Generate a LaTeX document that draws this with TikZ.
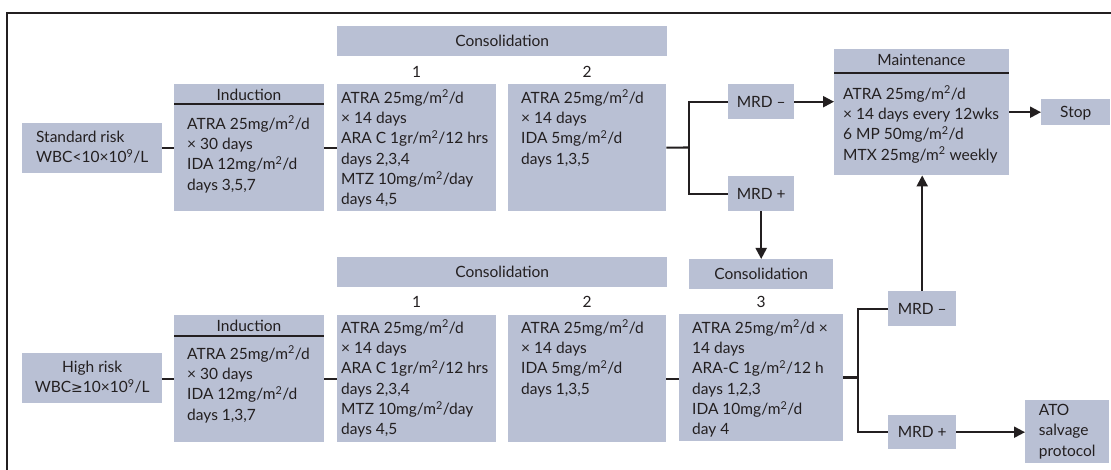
\documentclass[tikz,border=0pt]{standalone}
\usepackage{fontspec}
\setmainfont{Lato}
\newfontfamily\symfnt{DejaVu Sans}
\usetikzlibrary{arrows.meta}
\definecolor{boxc}{RGB}{185,192,212}
\definecolor{ink}{RGB}{35,31,32}
\newcommand\mainsz{\fontsize{15.5}{20.3}\selectfont}
\newcommand\sq{\textsuperscript{2}}
\tikzset{
  bx/.style={fill=boxc, draw=none, inner sep=0pt, anchor=north west, text=ink, font=\mainsz},
  lblbox/.style={bx, text height=10.8pt, text depth=0pt},
  lbl/.style={inner sep=0pt, text=ink, font=\mainsz, text height=10.8pt, text depth=0pt},
  txt/.style={inner sep=0pt, text=ink, font=\mainsz, align=left, anchor=north west},
  conn/.style={draw=ink, line width=2.1pt},
  arr/.style={conn, -{Triangle[length=11pt,width=11pt]}},
  hline/.style={draw=ink, line width=2pt},
  frame/.style={draw=ink, line width=2.5pt}
}
\begin{document}
\begin{tikzpicture}[x=1pt,y=-1pt]
\useasboundingbox (0,0) rectangle (1111,470);
\fill[white] (0,0) rectangle (1111,470);
\draw[frame] (7,470) -- (7,13) -- (1111,13);

% ---------- standard risk row ----------
\node[bx, minimum width=140pt, minimum height=50pt, align=left] (sr) at (22,123)
  {\strut Standard risk\\WBC<10×10\textsuperscript{9}/L\strut};

\node[bx, minimum width=150pt, minimum height=127pt] (ind1) at (174,84) {};
\node[lbl] (ind1h) at (249,95) {Induction};
\draw[hline] (174,104) -- (324,104);
\node[txt] (ind1t) at (187,114.8)
  {\strut ATRA 25mg/m\sq/d\\× 30 days\\IDA 12mg/m\sq/d\\days 3,5,7};

\node[lblbox, minimum width=330pt, minimum height=30pt] (cons1) at (337,26) {Consolidation};
\node[bx, minimum width=159pt, minimum height=127pt] (c1) at (337,84) {};
\node[lbl] (n1) at (416.5,72) {1};
\node[txt] (c1t) at (341,88.8)
  {\strut ATRA 25mg/m\sq/d\\× 14 days\\ARA C 1gr/m\sq/12 hrs\\days 2,3,4\\MTZ 10mg/m\sq/day\\days 4,5};

\node[bx, minimum width=158pt, minimum height=127pt] (c2) at (508,84) {};
\node[lbl] (n2) at (587,72) {2};
\node[txt] (c2t) at (521,88.8)
  {\strut ATRA 25mg/m\sq/d\\× 14 days\\IDA 5mg/m\sq/d\\days 1,3,5};

\coordinate (j1) at (689,147.5);
\node[lblbox, minimum width=66pt, minimum height=35pt] (mm1) at (728,84) {MRD –};
\node[lblbox, minimum width=66pt, minimum height=35pt] (mp1) at (728,176) {MRD +};

\node[bx, minimum width=175pt, minimum height=126pt] (mt) at (834,49) {};
\node[lbl] (mth) at (921.5,60.5) {Maintenance};
\draw[hline] (834,73) -- (1009,73);
\node[txt] (mtt) at (843,84.8)
  {\strut ATRA 25mg/m\sq/d\\× 14 days every 12wks\\6 MP 50mg/m\sq/d\\MTX 25mg/m\sq{} weekly};

\node[lblbox, minimum width=69pt, minimum height=26pt] (stop) at (1041,99) {Stop};

% ---------- high risk row ----------
\node[bx, minimum width=140pt, minimum height=50pt, align=center] (hr) at (22,353)
  {\strut High risk\\WBC{\symfnt\fontsize{14}{20.3}\selectfont ≥}10×10\textsuperscript{9}/L\strut};

\node[bx, minimum width=150pt, minimum height=127pt] (ind2) at (174,315) {};
\node[lbl] (ind2h) at (249,326.2) {Induction};
\draw[hline] (174,336) -- (324,336);
\node[txt] (ind2t) at (187,344.8)
  {\strut ATRA 25mg/m\sq/d\\× 30 days\\IDA 12mg/m\sq/d\\days 1,3,7};

\node[lblbox, minimum width=330pt, minimum height=30pt] (cons2) at (337,257) {Consolidation};
\node[bx, minimum width=159pt, minimum height=127pt] (c1b) at (337,315) {};
\node[lbl] (n1b) at (416.5,302.5) {1};
\node[txt] (c1bt) at (341,318.8)
  {\strut ATRA 25mg/m\sq/d\\× 14 days\\ARA C 1gr/m\sq/12 hrs\\days 2,3,4\\MTZ 10mg/m\sq/day\\days 4,5};

\node[bx, minimum width=158pt, minimum height=127pt] (c2b) at (508,315) {};
\node[lbl] (n2b) at (587,302.5) {2};
\node[txt] (c2bt) at (521,318.8)
  {\strut ATRA 25mg/m\sq/d\\× 14 days\\IDA 5mg/m\sq/d\\days 1,3,5};

\node[lblbox, minimum width=144pt, minimum height=30pt] (cons3) at (689,259) {Consolidation};
\node[bx, minimum width=164pt, minimum height=127pt] (c3) at (679,314) {};
\node[lbl] (n3) at (761,302.5) {3};
\node[txt] (c3t) at (692,318.8)
  {\strut ATRA 25mg/m\sq/d ×\\14 days\\ARA-C 1g/m\sq/12 h\\days 1,2,3\\IDA 10mg/m\sq/d\\day 4};

\coordinate (j2) at (858,377.5);
\node[lblbox, minimum width=68pt, minimum height=35pt] (mm2) at (888,291) {MRD –};
\node[lblbox, minimum width=68pt, minimum height=34pt] (mp2) at (888,415) {MRD +};
\node[bx, minimum width=84pt, minimum height=63pt, align=left] (ato) at (1025,400)
  {\strut ATO\\salvage\\protocol\strut};

% ---------- connectors ----------
\draw[conn] (sr.east |- ind1.west) -- (ind1.west);
\draw[conn] (ind1.east) -- (c1.west);
\draw[conn] (c2.east) -- (j1);
\draw[conn] (mm1.west) -| (j1) |- (mp1.west);
\draw[arr] (mm1.east) -- (mm1.east -| mt.west);
\draw[arr] (mt.east |- stop.west) -- (stop.west);
\draw[arr] (mp1.south) -- (mp1.south |- cons3.north);

\draw[conn] (hr.east |- ind2.west) -- (ind2.west);
\draw[conn] (ind2.east) -- (c1b.west);
\draw[conn] (c2b.east) -- (c2b.east -| c3.west);
\draw[conn] (c3.east |- j2) -- (j2);
\draw[conn] (mm2.west) -| (j2) |- (mp2.west);
\draw[arr] (mp2.east) -- (mp2.east -| ato.west);
\draw[arr] (mm2.north) -- (mm2.north |- mt.south);
\end{tikzpicture}
\end{document}
